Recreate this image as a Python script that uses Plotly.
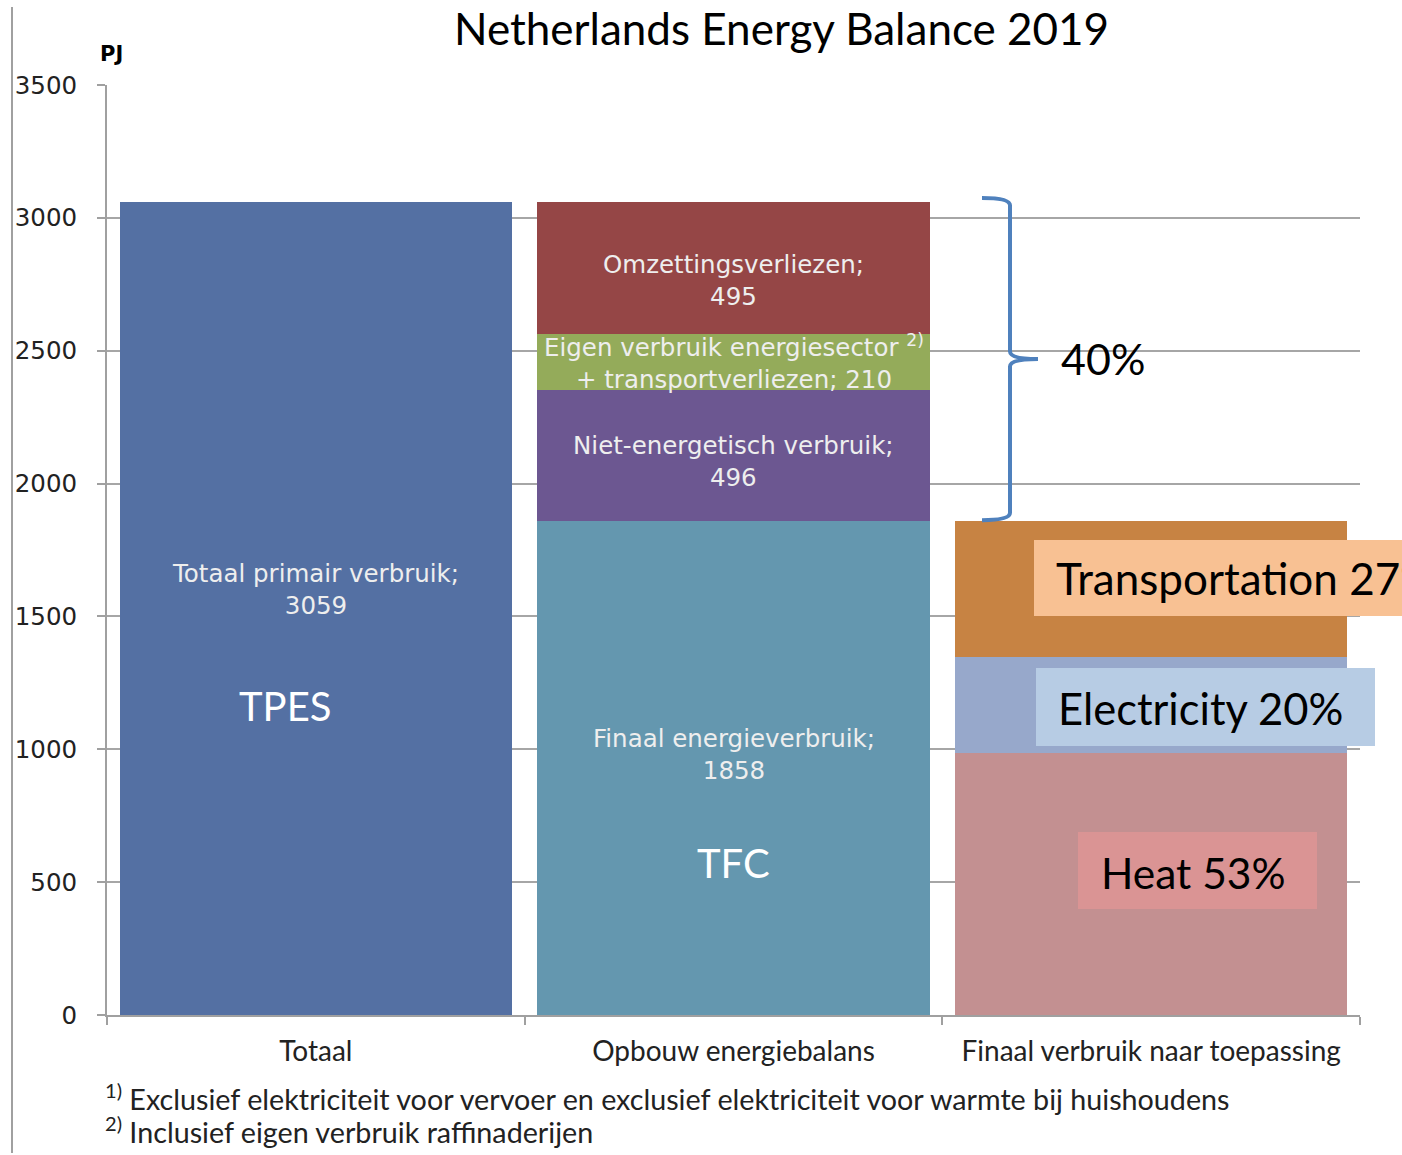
import plotly.graph_objects as go

# ---------------- data ----------------
categories = ["Totaal", "Opbouw energiebalans", "Finaal verbruik naar toepassing"]

segment_names = [
    "Totaal primair verbruik",
    "Finaal energieverbruik",
    "Niet-energetisch verbruik",
    "Eigen verbruik energiesector + transportverliezen",
    "Omzettingsverliezen",
    "Heat",
    "Electricity",
    "Transportation",
]
segment_category = [0, 1, 1, 1, 1, 2, 2, 2]
segment_values = [3059, 1858, 496, 210, 495, 986, 361, 511]
segment_colors = ["#5470A3", "#6497AF", "#6C5791", "#94AB5A", "#954646",
                  "#C39091", "#97A8CB", "#C78343"]
segment_labels = [
    "Totaal primair verbruik;<br>3059",
    "Finaal energieverbruik;<br>1858",
    "Niet-energetisch verbruik;<br>496",
    "Eigen verbruik energiesector <sup>2)</sup><br>+ transportverliezen; 210",
    "Omzettingsverliezen;<br>495",
    None, None, None,
]
label_yshift = [19, 14, -6, 0, -13, 0, 0, 0]

y_ticks = [0, 500, 1000, 1500, 2000, 2500, 3000, 3500]

footnotes = [
    "<sup>1)</sup> Exclusief elektriciteit voor vervoer en exclusief elektriciteit voor warmte bij huishoudens",
    "<sup>2)</sup> Inclusief eigen verbruik raffinaderijen",
]

W, H = 1402, 1155
L, R, T, B = 107, 42, 85, 140

fig = go.Figure()
bases = [0, 0, 0]
annotations = []
for name, ci, v, col, lab, ys in zip(segment_names, segment_category, segment_values,
                                      segment_colors, segment_labels, label_yshift):
    fig.add_trace(go.Bar(x=[categories[ci]], y=[v], name=name, marker=dict(color=col, line=dict(width=0)),
                         showlegend=False, hoverinfo="name+y"))
    if lab:
        annotations.append(dict(x=categories[ci], y=bases[ci] + v / 2, xref="x", yref="y",
                                text=lab, showarrow=False, yshift=ys,
                                xanchor="center", yanchor="middle",
                                font=dict(family="DejaVu Sans", size=24.5, color="#EEEEEE")))
    bases[ci] += v

def px_x(p):
    return (p - L) / (W - L - R)

def px_y(p):
    return (H - B - p) / (H - T - B)

calibri = "Lato"

def ann(**kw):
    kw.setdefault("xanchor", "center")
    kw.setdefault("yanchor", "middle")
    kw.setdefault("showarrow", False)
    return kw

# big overlay labels
annotations += [
    ann(x=categories[0], y=1163, xshift=-31, text="TPES",
        font=dict(family=calibri, size=40, color="white")),
    ann(x=categories[1], y=572, text="TFC",
        font=dict(family=calibri, size=40, color="white")),
    ann(x=px_x(1054), xref="paper", y=1645, yref="y", xanchor="left", text="Transportation 27%",
        font=dict(family=calibri, size=44, color="black")),
    ann(x=px_x(1056), xref="paper", y=1155, yref="y", xanchor="left", text="Electricity 20%",
        font=dict(family=calibri, size=43.5, color="black")),
    ann(x=px_x(1099), xref="paper", y=538, yref="y", xanchor="left", text="Heat 53%",
        font=dict(family=calibri, size=42.5, color="black")),
    ann(x=px_x(1103), xref="paper", y=2469, yref="y", text="40%",
        font=dict(family=calibri, size=43, color="black")),
    ann(x=px_x(781), xref="paper", y=px_y(28), yref="paper", text="Netherlands Energy Balance 2019",
        font=dict(family=calibri, size=44, color="black")),
    ann(x=px_x(111), xref="paper", y=px_y(54), yref="paper", text="<b>PJ</b>",
        font=dict(family="DejaVu Sans", size=21, color="black")),
]
for i, fn in enumerate(footnotes):
    annotations.append(ann(x=px_x(103), xref="paper", y=px_y(1097 + 33 * i), yref="paper",
                           xanchor="left", text=fn,
                           font=dict(family=calibri, size=28.7, color="#222222")))

# shapes: overlay boxes, brace, left rule
shapes = [
    dict(type="rect", xref="paper", yref="y", x0=px_x(1034), x1=px_x(1420), y0=1502, y1=1788,
         fillcolor="#F8C193", line=dict(width=0), layer="above"),
    dict(type="rect", xref="paper", yref="y", x0=px_x(1036), x1=px_x(1375), y0=1012, y1=1306,
         fillcolor="#B7CCE4", line=dict(width=0), layer="above"),
    dict(type="rect", xref="paper", yref="y", x0=px_x(1078), x1=px_x(1317), y0=399, y1=689,
         fillcolor="#DA9494", line=dict(width=0), layer="above"),
    dict(type="line", xref="paper", yref="paper", x0=px_x(12), x1=px_x(12), y0=px_y(7), y1=px_y(1153),
         line=dict(color="#A0A0A0", width=2), layer="above"),
]
top, bot, mid = 3075, 1862, 2469
x0, x1, x2 = px_x(982), px_x(1010), px_x(1038)
dy = 28
path = (f"M {x0},{top} Q {x1},{top} {x1},{top - dy} L {x1},{mid + dy} "
        f"Q {x1},{mid} {x2},{mid} Q {x1},{mid} {x1},{mid - dy} "
        f"L {x1},{bot + dy} Q {x1},{bot} {x0},{bot}")
shapes.append(dict(type="path", xref="paper", yref="y", path=path,
                   line=dict(color="#4F81BD", width=4), layer="above"))

fig.update_layout(
    width=W, height=H,
    margin=dict(l=L, r=R, t=T, b=B),
    paper_bgcolor="white", plot_bgcolor="white",
    barmode="stack", bargap=0.06,
    annotations=annotations, shapes=shapes,
)
fig.update_xaxes(type="category", tickson="boundaries", ticks="outside", ticklen=8,
                 tickcolor="#A0A0A0", tickwidth=2, showline=True, linecolor="#A0A0A0",
                 linewidth=2, showgrid=False,
                 tickfont=dict(family=calibri, size=28, color="#222222"), ticklabelstandoff=10)
fig.update_yaxes(range=[0, 3500], tickvals=y_ticks, ticks="outside", ticklen=8,
                 tickcolor="#A0A0A0", tickwidth=2, showline=True, linecolor="#A0A0A0",
                 linewidth=2, showgrid=True, gridcolor="#A6A6A6", gridwidth=2,
                 tickfont=dict(family="DejaVu Sans", size=24.5, color="#222222"),
                 ticklabelstandoff=15, zeroline=False)

fig.write_html("out.html", config={"displayModeBar": False},
               post_script="document.body.style.margin='0';")
